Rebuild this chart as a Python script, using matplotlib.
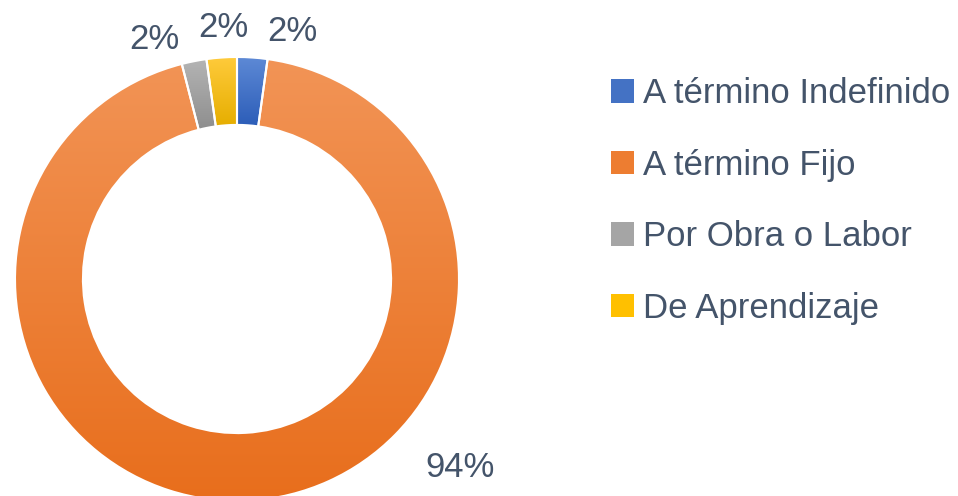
import numpy as np
import matplotlib
matplotlib.use("Agg")
import matplotlib.pyplot as plt
from matplotlib.colors import LinearSegmentedColormap
from matplotlib.patches import Patch

categories = ["A término Indefinido", "A término Fijo", "Por Obra o Labor", "De Aprendizaje"]
values = [2.2, 93.8, 1.8, 2.2]
labels = ["2%", "94%", "2%", "2%"]
top_colors = ["#5E8AD6", "#F29456", "#B4B4B4", "#FFCB3C"]
bottom_colors = ["#2C5DB8", "#E86E1C", "#8E8E8E", "#E6AE00"]
legend_colors = ["#4472C4", "#ED7D31", "#A5A5A5", "#FFC000"]

TXT = "#44546A"
FONT = ["Liberation Sans", "DejaVu Sans"]
plt.rcParams["font.family"] = FONT

W, H = 958, 496
fig = plt.figure(figsize=(W / 100, H / 100), dpi=100)
cx, cy, R = 237, 279, 222
ax = fig.add_axes([(cx - R) / W, (H - cy - R) / H, 2 * R / W, 2 * R / H])

wedges, _ = ax.pie(values, startangle=90, counterclock=False, radius=1.0,
                   colors=legend_colors,
                   wedgeprops=dict(width=0.306, edgecolor="white", linewidth=1.5))
ax.set_xlim(-1, 1)
ax.set_ylim(-1, 1)
ax.set_aspect("equal")
ax.axis("off")

# vertical gradient fill per wedge
for w, ct, cb in zip(wedges, top_colors, bottom_colors):
    ext = w.get_path().get_extents(w.get_patch_transform())
    cmap = LinearSegmentedColormap.from_list("g", [cb, ct])
    grad = np.linspace(0, 1, 256).reshape(-1, 1)
    im = ax.imshow(grad, cmap=cmap, origin="lower", aspect="auto",
                   extent=[ext.x0, ext.x1, ext.y0, ext.y1], zorder=w.get_zorder() + 0.1)
    im.set_clip_path(w)
    w.set_facecolor("none")
    w.set_zorder(w.get_zorder() + 0.2)
ax.set_xlim(-1, 1)
ax.set_ylim(-1, 1)

# data labels (positions in pie data units)
label_pos = [(0.248, 1.115), (1.005, -0.85), (-0.37, 1.08), (-0.063, 1.135)]
for (x, y), t in zip(label_pos, labels):
    ax.text(x, y, t, ha="center", va="center", fontsize=25, color=TXT, clip_on=False)

handles = [Patch(facecolor=c, edgecolor="none") for c in legend_colors]
fig.legend(handles, categories, loc="upper left", bbox_to_anchor=(611 / W, 1 - 77 / H),
           frameon=False, fontsize=25, labelcolor=TXT, handlelength=0.66, handleheight=0.66,
           handletextpad=0.26, labelspacing=1.11, borderaxespad=0, borderpad=0)

fig.savefig("out.png", dpi=100)
